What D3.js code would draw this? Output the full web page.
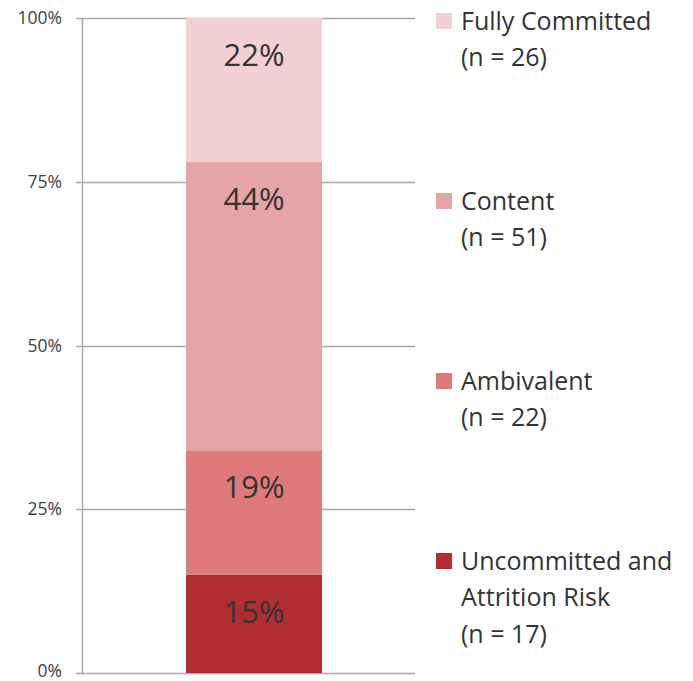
<!DOCTYPE html>
<html>
<head>
<meta charset="utf-8">
<script src="https://cdn.jsdelivr.net/npm/d3@7/dist/d3.min.js"></script>
<style>
  body { margin: 0; background: #fff; }
  svg { font-family: "Open Sans", Lato, sans-serif; }
</style>
</head>
<body>
<div id="chart"></div>
<script>
var categories = ['Uncommitted and Attrition Risk', 'Ambivalent', 'Content', 'Fully Committed'];
var shares = [15, 19, 44, 22];
var counts = [17, 22, 51, 26];
var colors = ['#b02e32', '#de7a7b', '#e5a5a6', '#f2d0d4'];
var tickValues = [0, 25, 50, 75, 100];
var legendLines = [
  ['Uncommitted and', 'Attrition Risk'],
  ['Ambivalent'],
  ['Content'],
  ['Fully Committed']
];

var width = 693,
  height = 681;

var margin = { top: 18, left: 82, right: 278, bottom: 8 };

var svg = d3.select('#chart')
  .append('svg')
  .attr('width', width)
  .attr('height', height);

var y = d3.scaleLinear()
  .domain([0, 100])
  .range([height - margin.bottom, margin.top]);

var x = d3.scaleBand()
  .domain(['all'])
  .range([margin.left, width - margin.right])
  .paddingInner(0)
  .paddingOuter(0.724)
  .align(0.528);

// stack the segments
var stack = [];
var acc = 0;
shares.forEach(function (v, i) {
  stack.push({ y0: acc, y1: acc + v, value: v, color: colors[i] });
  acc += v;
});

// gridlines
svg.append('g')
  .selectAll('line')
  .data(tickValues)
  .enter()
  .append('line')
  .attr('x1', margin.left - 6)
  .attr('x2', width - margin.right)
  .attr('y1', function (d) { return Math.round(y(d)) + 0.5; })
  .attr('y2', function (d) { return Math.round(y(d)) + 0.5; })
  .attr('stroke', '#a6a6a6')
  .attr('stroke-width', 1.5);

// y axis line
svg.append('line')
  .attr('x1', margin.left + 0.5)
  .attr('x2', margin.left + 0.5)
  .attr('y1', y(100))
  .attr('y2', y(0))
  .attr('stroke', '#a6a6a6')
  .attr('stroke-width', 1.5);

// tick labels (bottom one nudged up so it stays inside the frame)
svg.append('g')
  .selectAll('text')
  .data(tickValues)
  .enter()
  .append('text')
  .attr('x', margin.left - 20)
  .attr('y', function (d) { return Math.min(y(d), height - 10); })
  .attr('dy', '0.35em')
  .attr('text-anchor', 'end')
  .attr('fill', '#404040')
  .style('font-size', '17.5px')
  .text(function (d) { return d + '%'; });

// bar segments
svg.append('g')
  .selectAll('rect')
  .data(stack)
  .enter()
  .append('rect')
  .attr('x', x('all'))
  .attr('width', x.bandwidth())
  .attr('y', function (d) { return y(d.y1); })
  .attr('height', function (d) { return y(d.y0) - y(d.y1); })
  .attr('fill', function (d) { return d.color; });

svg.append('g')
  .selectAll('text')
  .data(stack)
  .enter()
  .append('text')
  .attr('x', x('all') + x.bandwidth() / 2)
  .attr('y', function (d) { return y(d.y1) + 37; })
  .attr('dy', '0.35em')
  .attr('text-anchor', 'middle')
  .attr('fill', '#333')
  .style('font-size', '31px')
  .text(function (d) { return d.value + '%'; });

// legend
var legendTop = [21, 201, 381, 561];
var legend = svg.append('g')
  .selectAll('g')
  .data(categories)
  .enter()
  .append('g')
  .attr('transform', function (d, i) { return 'translate(436,' + legendTop[3 - i] + ')'; });

legend.append('rect')
  .attr('x', 0)
  .attr('y', -8)
  .attr('width', 16)
  .attr('height', 16)
  .attr('fill', function (d, i) { return colors[i]; });

legend.each(function (d, i) {
  var lines = legendLines[i].concat(['(n = ' + counts[i] + ')']);
  d3.select(this).selectAll('text')
    .data(lines)
    .enter()
    .append('text')
    .attr('x', 25)
    .attr('y', function (t, j) { return j * 36.5; })
    .attr('dy', '0.35em')
    .attr('fill', '#333')
    .style('font-size', '25px')
    .text(function (t) { return t; });
});
</script>
</body>
</html>
